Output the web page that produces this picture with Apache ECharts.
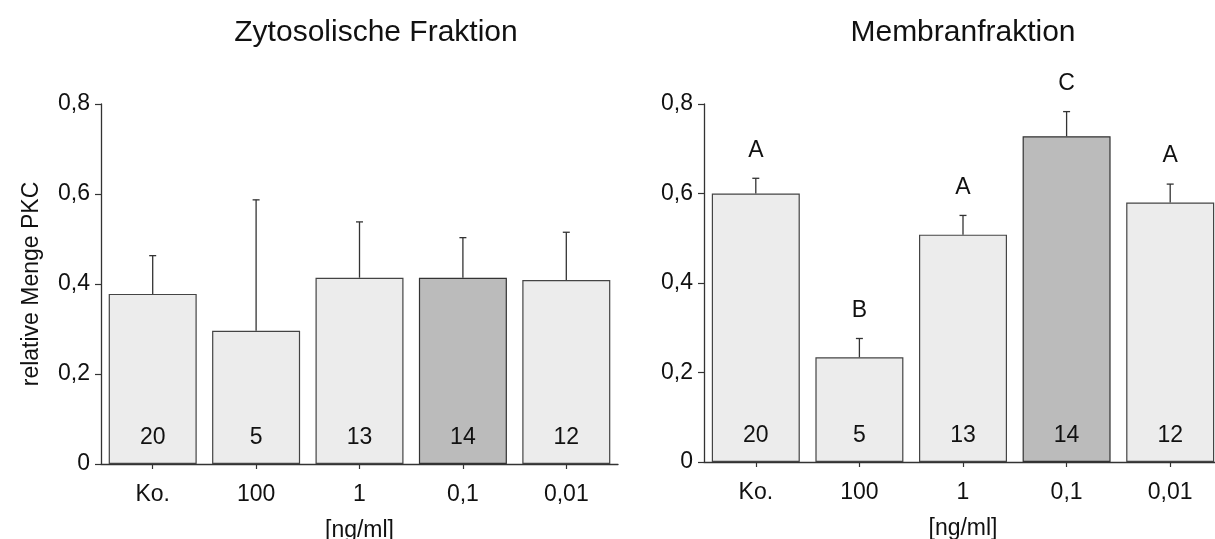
<!DOCTYPE html>
<html>
<head>
<meta charset="utf-8">
<style>
  html, body { margin: 0; padding: 0; background: #ffffff; }
  #chart { width: 1215px; height: 539px; }
</style>
<script src="https://cdn.jsdelivr.net/npm/echarts@6/dist/echarts.min.js"></script>
</head>
<body>
<div id="chart"></div>
<script>
// Doses (ng/ml) and the control group
const categories = ['Ko.', '100', '1', '0,1', '0,01'];

// Cytosolic fraction: mean relative PKC amount, SD, group size
const cytoMeans = [0.378, 0.296, 0.414, 0.414, 0.409];
const cytoSD    = [0.085, 0.291, 0.124, 0.089, 0.106];
const cytoN     = [20, 5, 13, 14, 12];

// Membrane fraction: mean relative PKC amount, SD, group size, significance groups
const membMeans   = [0.600, 0.234, 0.508, 0.728, 0.580];
const membSD      = [0.034, 0.042, 0.043, 0.055, 0.041];
const membN       = [20, 5, 13, 14, 12];
const membLetters = ['A', 'B', 'A', 'C', 'A'];

// Y-axis ticks
const yTicks = [0, 0.2, 0.4, 0.6, 0.8];

const FONT = "'Liberation Sans', Arial, sans-serif";
const TXT = 23;
const highlightIndex = 3;

const chart = echarts.init(document.getElementById('chart'), null, { renderer: 'canvas' });

function barData(means) {
  return means.map((v, i) => ({
    value: v,
    itemStyle: i === highlightIndex
      ? { color: '#bbbbbb', borderColor: '#333333', borderWidth: 1.2 }
      : { color: '#ececec', borderColor: '#444444', borderWidth: 1.2 }
  }));
}

function errorData(means, sd, letters) {
  return means.map((m, i) => [i, m, m + sd[i], letters ? letters[i] : '']);
}

function renderError(params, api) {
  const x = api.value(0);
  const base = api.coord([x, api.value(1)]);
  const top = api.coord([x, api.value(2)]);
  const letter = api.value(3);
  const capHalf = 3.5;
  const children = [
    { type: 'line', shape: { x1: base[0], y1: base[1], x2: top[0], y2: top[1] },
      style: { stroke: '#333333', lineWidth: 1.3 } },
    { type: 'line', shape: { x1: top[0] - capHalf, y1: top[1], x2: top[0] + capHalf, y2: top[1] },
      style: { stroke: '#333333', lineWidth: 1.3 } }
  ];
  if (letter) {
    children.push({
      type: 'text',
      x: top[0], y: top[1] - 28,
      style: { text: letter, fill: '#111111', font: TXT + 'px ' + FONT, align: 'center', verticalAlign: 'middle' }
    });
  }
  return { type: 'group', children };
}

function yAxis(gridIndex, withName) {
  return {
    type: 'value', gridIndex,
    min: yTicks[0], max: yTicks[yTicks.length - 1], interval: yTicks[1] - yTicks[0],
    name: withName ? 'relative Menge PKC' : '',
    nameLocation: 'middle', nameGap: 58, nameRotate: 90,
    nameTextStyle: { fontFamily: FONT, fontSize: TXT, color: '#111111' },
    axisLine: { show: true, lineStyle: { color: '#333333', width: 1.3 } },
    axisTick: { show: true, length: 6, inside: false, lineStyle: { color: '#333333', width: 1.2 } },
    axisLabel: {
      fontFamily: FONT, fontSize: TXT, color: '#111111', margin: 11,
      formatter: v => (v === 0 ? '0' : v.toFixed(1).replace('.', ','))
    },
    splitLine: { show: false }
  };
}

function xAxis(gridIndex) {
  return {
    type: 'category', gridIndex, data: categories,
    name: '[ng/ml]', nameLocation: 'middle', nameGap: 55,
    nameTextStyle: { fontFamily: FONT, fontSize: TXT, color: '#111111' },
    axisLine: { show: true, lineStyle: { color: '#333333', width: 1.3 } },
    axisTick: { show: true, alignWithLabel: true, length: 5, lineStyle: { color: '#333333', width: 1.2 } },
    axisLabel: { fontFamily: FONT, fontSize: TXT, color: '#111111', margin: 19 }
  };
}

const nLabel = (nArr) => ({
  show: true, position: 'insideBottom', distance: 15,
  fontFamily: FONT, fontSize: TXT, color: '#111111',
  formatter: p => String(nArr[p.dataIndex])
});

const option = {
  animation: false,
  backgroundColor: '#ffffff',
  title: [
    { text: 'Zytosolische Fraktion', left: 371, top: 13, textAlign: 'center',
      textStyle: { fontFamily: FONT, fontSize: 30, fontWeight: 'normal', color: '#111111' } },
    { text: 'Membranfraktion', left: 958, top: 13, textAlign: 'center',
      textStyle: { fontFamily: FONT, fontSize: 30, fontWeight: 'normal', color: '#111111' } }
  ],
  grid: [
    { left: 101, top: 104, width: 517, height: 360, containLabel: false, outerBoundsMode: 'none' },
    { left: 704, top: 104, width: 518, height: 358, containLabel: false, outerBoundsMode: 'none' }
  ],
  xAxis: [xAxis(0), xAxis(1)],
  yAxis: [yAxis(0, true), yAxis(1, false)],
  series: [
    { type: 'bar', xAxisIndex: 0, yAxisIndex: 0, barWidth: 88,
      data: barData(cytoMeans), label: nLabel(cytoN), z: 2 },
    { type: 'custom', xAxisIndex: 0, yAxisIndex: 0, renderItem: renderError,
      data: errorData(cytoMeans, cytoSD, null), z: 3 },
    { type: 'bar', xAxisIndex: 1, yAxisIndex: 1, barWidth: 88,
      data: barData(membMeans), label: nLabel(membN), z: 2 },
    { type: 'custom', xAxisIndex: 1, yAxisIndex: 1, renderItem: renderError,
      data: errorData(membMeans, membSD, membLetters), z: 3 }
  ]
};

chart.setOption(option);
</script>
</body>
</html>
